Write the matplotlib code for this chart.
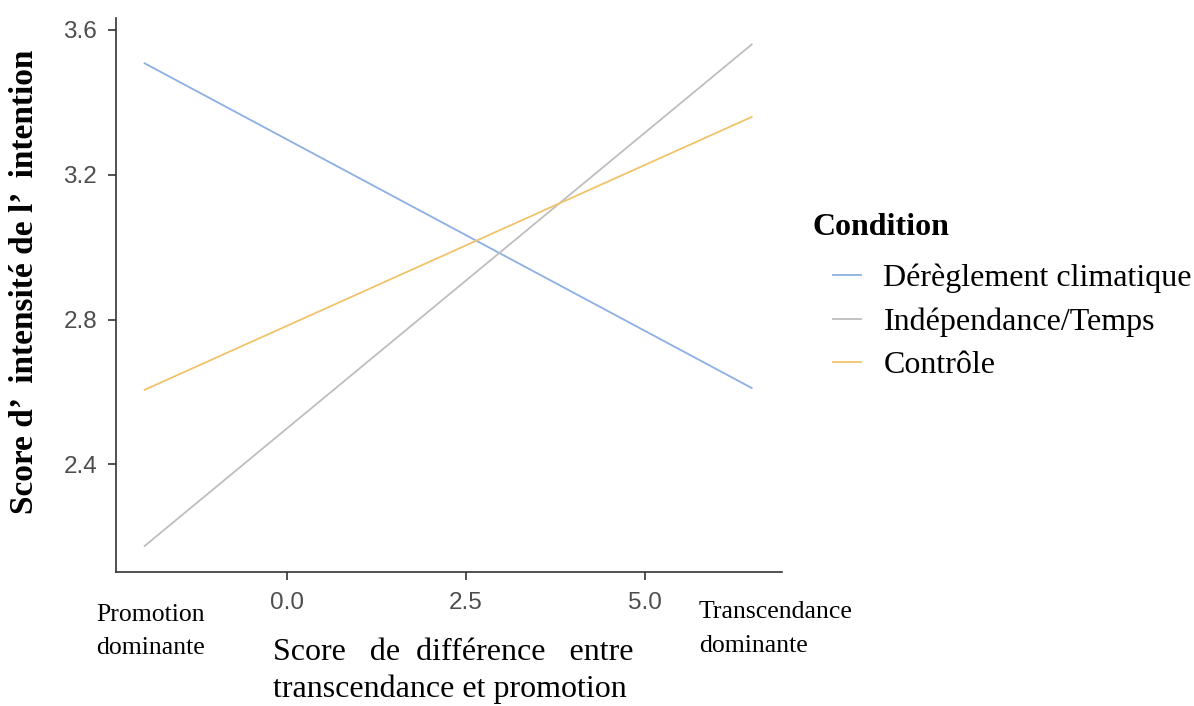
import matplotlib
matplotlib.use("Agg")
import matplotlib.pyplot as plt
from matplotlib.lines import Line2D

# Data
x_range = [-2.0, 6.5]
conditions = ["Dérèglement climatique", "Indépendance/Temps", "Contrôle"]
blue_vals = [3.507, 2.611]
grey_vals = [2.175, 3.559]
orange_vals = [2.606, 3.359]
series = [blue_vals, grey_vals, orange_vals]
colors = ["#8DB0E4", "#BEBEBE", "#F2C36B"]
xticks = [0.0, 2.5, 5.0]
xtick_labels = ["0.0", "2.5", "5.0"]
yticks = [2.4, 2.8, 3.2, 3.6]
ytick_labels = ["2.4", "2.8", "3.2", "3.6"]

fig = plt.figure(figsize=(11.94, 7.06), dpi=100)
ax = fig.add_axes([0.0972, 0.1902, 0.5575, 0.7843])

for vals, c, lab in zip(series, colors, conditions):
    ax.plot(x_range, vals, color=c, lw=1.3, label=lab)

ax.set_xlim(-2.40, 6.92)
ax.set_ylim(2.104, 3.632)
ax.set_xticks(xticks)
ax.set_xticklabels(xtick_labels)
ax.set_yticks(yticks)
ax.set_yticklabels(ytick_labels)
for s in ["top", "right"]:
    ax.spines[s].set_visible(False)
for s in ["left", "bottom"]:
    ax.spines[s].set_color("#333333")
    ax.spines[s].set_linewidth(1.2)
ax.tick_params(axis="both", length=5.5, width=1.2, color="#333333",
               labelcolor="#4d4d4d", labelsize=17.5)
ax.tick_params(axis="x", pad=9)
ax.tick_params(axis="y", pad=8)
for lbl in ax.get_xticklabels() + ax.get_yticklabels():
    lbl.set_fontfamily("Liberation Sans")

serif = "Liberation Serif"

# Y label
fig.text(25 / 1194, 1 - 282 / 706, "Score d’  intensité de l’  intention", rotation=90,
         ha="center", va="center", fontsize=24, fontweight="bold", family=serif)

# X label (two lines)
fig.text(273 / 1194, 1 - 652 / 706, "Score   de  différence   entre", ha="left",
         va="center", fontsize=23, family=serif)
fig.text(273 / 1194, 1 - 689 / 706, "transcendance et promotion", ha="left",
         va="center", fontsize=23, family=serif)

# Extreme annotations
fig.text(96 / 1194, 1 - 615 / 706, "Promotion", ha="left", va="center",
         fontsize=18.5, family=serif)
fig.text(96 / 1194, 1 - 648 / 706, "dominante", ha="left", va="center",
         fontsize=18.5, family=serif)
fig.text(699 / 1194, 1 - 612 / 706, "Transcendance", ha="left", va="center",
         fontsize=18.5, family=serif)
fig.text(699 / 1194, 1 - 646 / 706, "dominante", ha="left", va="center",
         fontsize=18.5, family=serif)

# Legend
fig.text(812 / 1194, 1 - 228 / 706, "Condition", ha="left", va="center",
         fontsize=23, fontweight="bold", family=serif)
handles = [Line2D([0], [0], color=c, lw=1.3) for c in colors]
leg = fig.legend(handles, conditions, loc="upper left",
                 bbox_to_anchor=(833 / 1194, 1 - 264 / 706),
                 frameon=False, prop={"family": serif, "size": 23},
                 handlelength=0.88, handletextpad=0.7, labelspacing=0.43,
                 borderpad=0, borderaxespad=0)

fig.savefig("out.png", dpi=100)
